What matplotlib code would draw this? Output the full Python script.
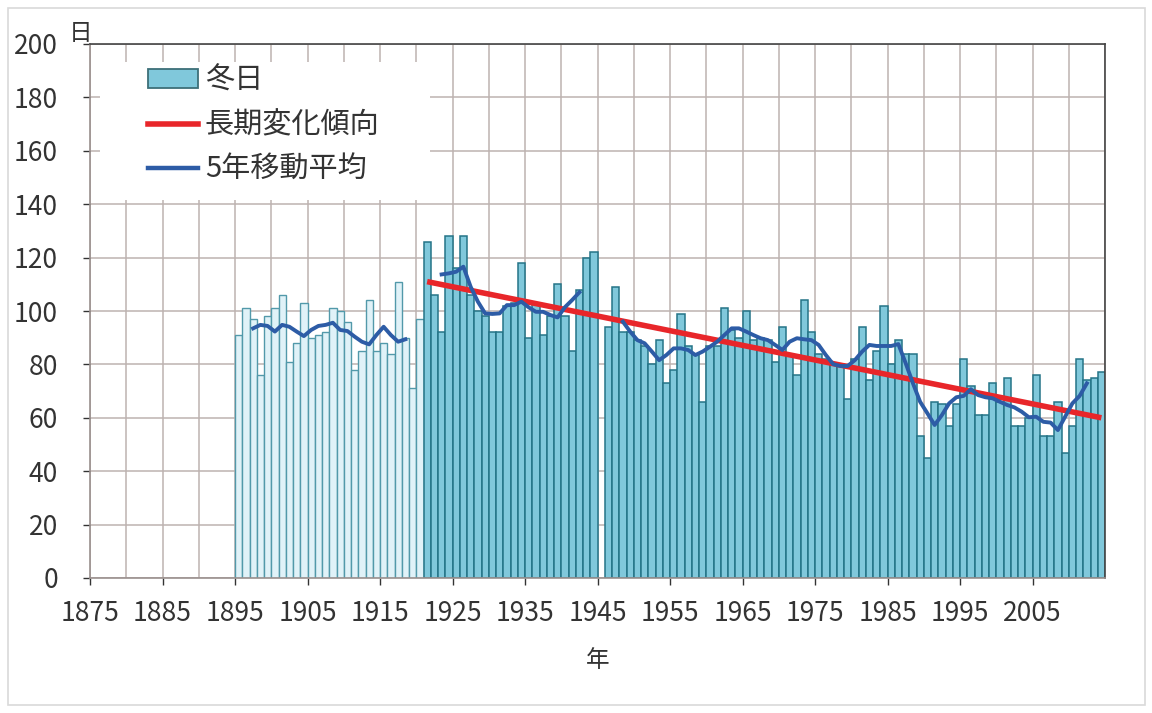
import numpy as np
import matplotlib
matplotlib.use('Agg')
import matplotlib.pyplot as plt
from matplotlib.patches import Patch, Rectangle
from matplotlib.lines import Line2D
from matplotlib.ticker import MultipleLocator

plt.rcParams['font.family'] = ['Noto Sans CJK JP', 'DejaVu Sans']

# winter days (冬日), early period 1895-1920 (pale bars)
pale_years = list(range(1895, 1921))
pale_days = [91, 101, 97, 76, 98, 101, 106, 81, 88, 103, 90, 91, 92,
             101, 100, 96, 78, 85, 104, 85, 88, 84, 111, 90, 71, 97]

# 1921-2014 (1945 missing)
main_years = list(range(1921, 2015))
main_days = [126, 106, 92, 128, 116, 128, 106, 100, 98, 92,
             92, 102, 103, 118, 90, 103, 91, 98, 110, 98,
             85, 108, 120, 122, np.nan, 94, 109, 92, 92, 89,
             87, 80, 89, 73, 78, 99, 87, 84, 66, 87,
             87, 101, 93, 90, 100, 89, 90, 89, 81, 94,
             83, 76, 104, 92, 84, 82, 80, 80, 67, 82,
             94, 74, 85, 102, 80, 89, 84, 84, 53, 45,
             66, 65, 57, 65, 82, 72, 61, 61, 73, 66,
             75, 57, 57, 60, 76, 53, 53, 66, 47, 57,
             82, 74, 75, 77]

# 5-year moving average (three separate pieces)
ma1_years = list(range(1897, 1919))
ma1 = [93.5, 94.8, 94.4, 92.3, 94.8, 94.1, 92.3, 90.6, 92.9, 94.4, 94.8,
       95.6, 92.9, 92.5, 90.4, 88.5, 87.5, 91.0, 94.1, 91.0, 88.5, 89.4]
ma2_years = list(range(1923, 1943))
ma2 = [113.7, 114.1, 114.7, 116.6, 109.1, 103.5, 99.1, 98.9, 99.1, 102.2,
       102.2, 103.5, 101.4, 99.7, 99.7, 98.5, 97.6, 101.4, 104.1, 107.0]
ma3_years = list(range(1948, 2013))
ma3 = [96.0, 92.3, 89.1, 87.9, 84.8, 81.6, 83.5, 86.0, 86.0, 85.4,
       83.5, 84.8, 86.6, 88.5, 91.0, 93.5, 93.5, 92.3, 91.0, 89.8,
       89.1, 87.3, 85.4, 88.5, 89.8, 89.4, 89.1, 87.3, 83.5, 80.1,
       79.4, 79.4, 81.6, 84.8, 87.3, 86.9, 86.9, 86.9, 87.6, 80.5,
       73.0, 66.0, 61.7, 57.3, 61.0, 65.4, 67.7, 68.2, 70.7, 68.5,
       67.7, 67.3, 66.0, 64.8, 63.9, 62.3, 60.2, 60.4, 58.5, 58.2,
       55.4, 60.4, 65.4, 68.2, 72.9]

# long-term trend (linear), end points
trend_years = [1921, 2014]
trend_vals = [111, 60]

xtick_years = list(range(1875, 2015, 10))

bar_fill = '#80c8db'
bar_edge = '#247487'
pale_fill = '#e0f2f8'
pale_edge = '#5299aa'
red = '#e8262a'
blue = '#2d5ca6'
grid_c = '#bdb3b0'
txt_c = '#333333'

fig = plt.figure(figsize=(11.52, 7.13), dpi=100)
ax = fig.add_axes([90 / 1152, 1 - 578 / 713, 1015 / 1152, 534 / 713])

ax.bar(pale_years, pale_days, width=1.0, align='edge', color=pale_fill,
       edgecolor=pale_edge, linewidth=1.0, zorder=2)
ax.bar(main_years, main_days, width=1.0, align='edge', color=bar_fill,
       edgecolor=bar_edge, linewidth=1.1, zorder=2)

ax.plot(np.array(trend_years) + 0.5, trend_vals, color=red, lw=4.0,
        solid_capstyle='butt', zorder=3)
for yrs, vals in [(ma1_years, ma1), (ma2_years, ma2), (ma3_years, ma3)]:
    ax.plot(np.array(yrs) + 0.5, vals, color=blue, lw=2.8, zorder=4)

ax.set_xlim(1875, 2015)
ax.set_ylim(0, 200)
ax.set_xticks(xtick_years)
ax.xaxis.set_minor_locator(MultipleLocator(5))
ax.yaxis.set_major_locator(MultipleLocator(20))
ax.grid(True, which='both', axis='x', color=grid_c, lw=1.1, zorder=0)
ax.grid(True, which='major', axis='y', color=grid_c, lw=1.1, zorder=0)
ax.set_axisbelow(True)
ax.tick_params(axis='both', which='major', labelsize=19, colors=txt_c,
               length=5, width=1, direction='out')
ax.tick_params(axis='y', pad=18)
ax.tick_params(axis='x', pad=11)
ax.tick_params(axis='x', which='minor', length=0)
for s in ['top', 'right']:
    ax.spines[s].set_color('#444444')
    ax.spines[s].set_linewidth(1.2)
for s in ['left', 'bottom']:
    ax.spines[s].set_color('#9a908e')
    ax.spines[s].set_linewidth(1.2)

ax.set_xlabel('年', fontsize=17, color=txt_c, labelpad=16)
fig.text(81 / 1152, 1 - 33 / 713, '日', fontsize=17, color=txt_c,
         ha='center', va='center')

# white area behind the legend hides the grid, as in the original
ax.add_patch(Rectangle(((100 - 90) / 1015, (578 - 200) / 534),
                       330 / 1015, 138 / 534, transform=ax.transAxes,
                       facecolor='white', edgecolor='none', zorder=1))

handles = [Patch(facecolor=bar_fill, edgecolor='#3d6f78', linewidth=1.3),
           Line2D([], [], color=red, lw=4.0),
           Line2D([], [], color=blue, lw=3.2)]
labels = ['冬日', '長期変化傾向', '5年移動平均']
leg = ax.legend(handles, labels, loc='upper left',
                bbox_to_anchor=((148 - 90) / 1015, (578 - 66) / 534),
                fontsize=21, frameon=False, handlelength=1.7,
                handleheight=0.6, handletextpad=0.25, labelspacing=0.5,
                borderpad=0, borderaxespad=0)
for t in leg.get_texts():
    t.set_color(txt_c)

fig.add_artist(Rectangle((8 / 1152, 8 / 713), 1137 / 1152, 697 / 713,
                         transform=fig.transFigure, fill=False,
                         edgecolor='#d9d9d9', lw=1.2))

fig.savefig('out.png', dpi=100)
